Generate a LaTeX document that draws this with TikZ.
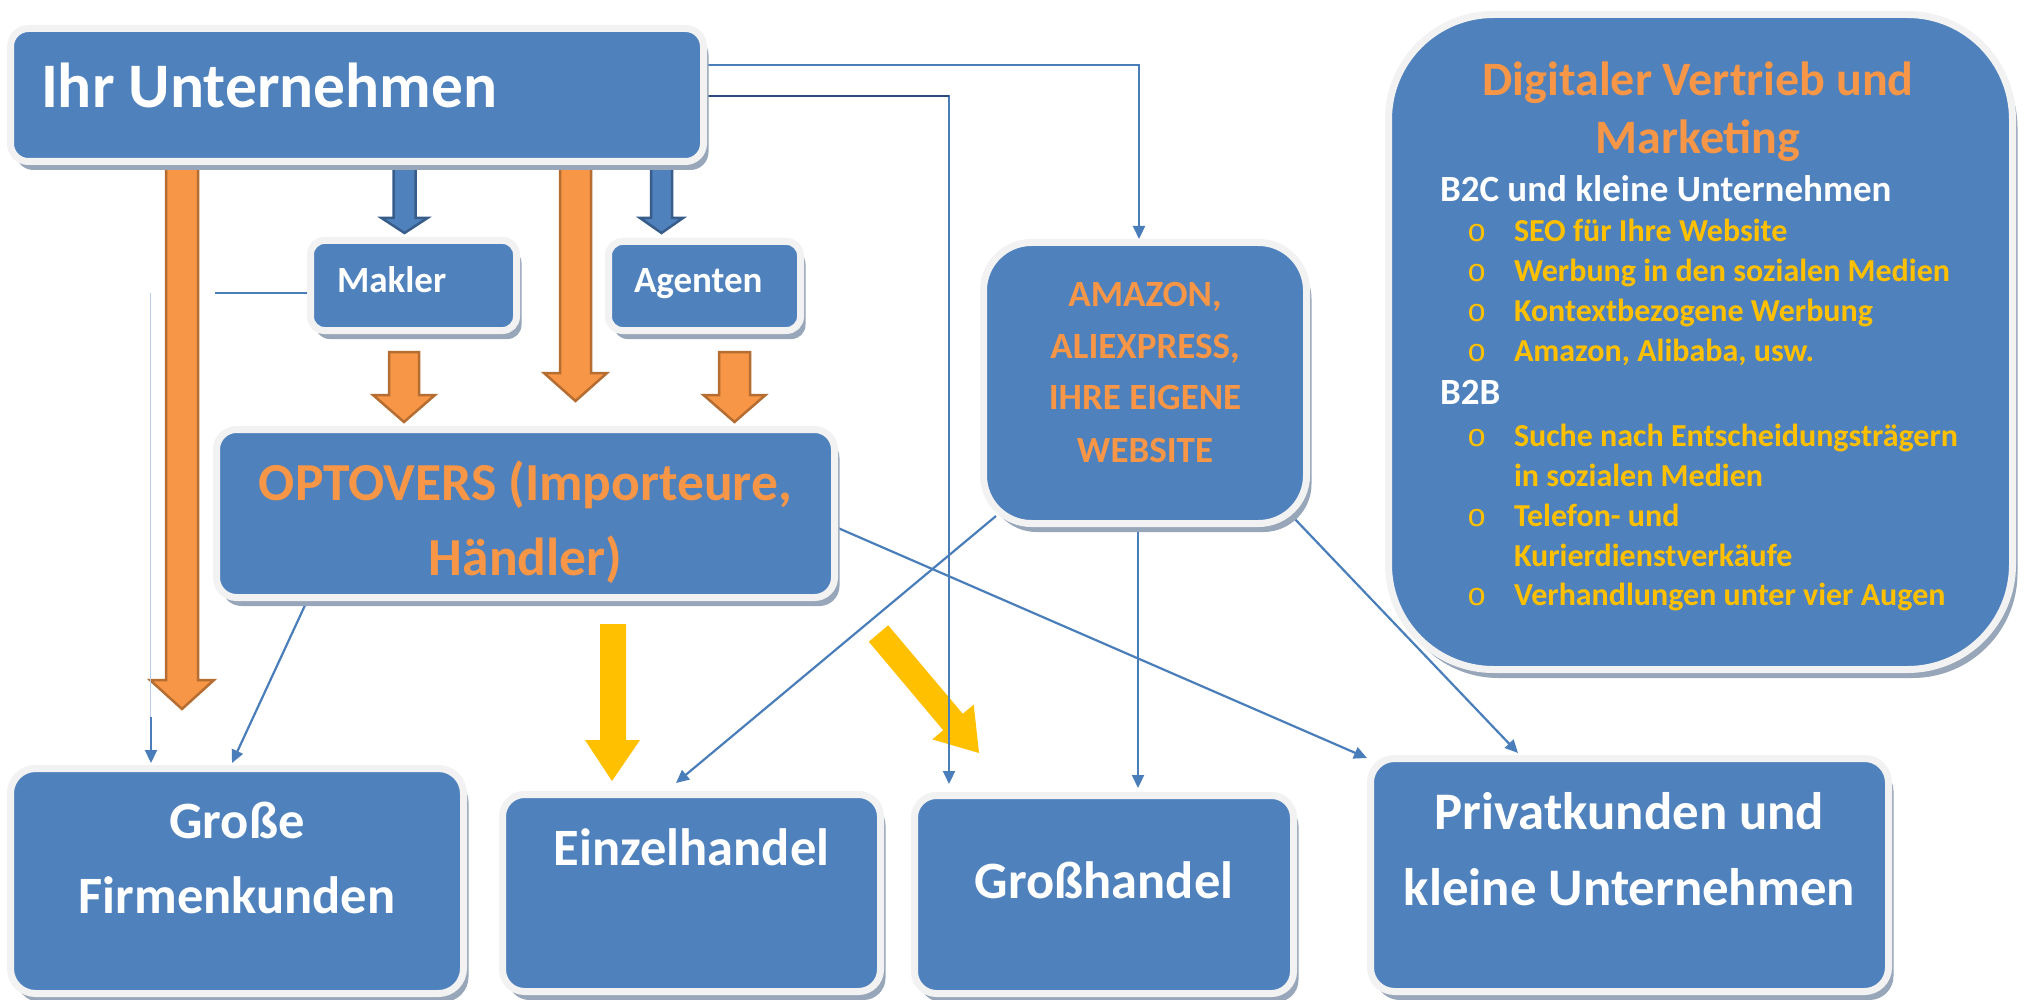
\documentclass[tikz,border=0pt]{standalone}
\usepackage{fontspec}
\setmainfont{Carlito}
\newfontfamily\bulletfont{Liberation Mono}
\usepackage{array}
\usetikzlibrary{arrows.meta,shadows}

\definecolor{boxblue}{HTML}{4F81BD}
\definecolor{rimgray}{HTML}{F2F2F2}
\definecolor{shadowgray}{HTML}{98A6B9}
\definecolor{connblue}{HTML}{4A7EBB}
\definecolor{navyline}{HTML}{2C4C7C}
\definecolor{faintblue}{HTML}{B9CDE5}
\definecolor{bluedraw}{HTML}{385D8A}
\definecolor{orangefill}{HTML}{F79646}
\definecolor{orangedraw}{HTML}{B66D31}
\definecolor{orangetxt}{HTML}{F79646}
\definecolor{gold}{HTML}{FFC000}

\pgfdeclarelayer{back}
\pgfdeclarelayer{under}
\pgfsetlayers{back,under,main}

\newcommand\ctab[1]{\begin{tabular}[t]{@{}c@{}}#1\end{tabular}}
\newcommand\bul{\hspace*{27pt}{\bulletfont\mdseries o}}
% #1 style, #2 centre x, #3 top y, #4 half shaft, #5 head y, #6 half head, #7 tip y
\newcommand\barrow[7]{\draw[#1] ({#2-#4},#3) -- ({#2-#4},#5) -- ({#2-#6},#5) -- (#2,#7) -- ({#2+#6},#5) -- ({#2+#4},#5) -- ({#2+#4},#3) -- cycle;}

\tikzset{
  box/.style={draw=rimgray, line width=7pt, fill=boxblue, rounded corners=#1,
    inner sep=0pt, drop shadow={shadow xshift=5pt, shadow yshift=-8.5pt, fill=shadowgray, opacity=1}},
  box/.default=18pt,
  txt/.style={inner sep=0pt, outer sep=0pt, text=white},
  conn/.style={draw=connblue, line width=2.2pt, -{Triangle[length=13pt,width=12pt]}},
  plainconn/.style={draw=connblue, line width=2.2pt},
  faintconn/.style={draw=faintblue, line width=1pt},
  orangearrow/.style={fill=orangefill, draw=orangedraw, line width=2.5pt, line join=miter},
  bluearrow/.style={fill=boxblue, draw=bluedraw, line width=2.5pt, line join=miter},
  goldarrow/.style={fill=gold, draw=none}
}

\begin{document}
\begin{tikzpicture}[x=1pt,y=-1pt]
\useasboundingbox (0,0) rectangle (2026,1000);
\begin{pgfonlayer}{back}
  \fill[white] (0,0) rectangle (2026,1000);
\end{pgfonlayer}

% boxes
\node[box=18pt, minimum width=693pt, minimum height=133pt] (ihr) at (357,95) {};
\node[box=14pt, minimum width=206pt, minimum height=90pt] (makler) at (413.5,285.5) {};
\node[box=14pt, minimum width=192pt, minimum height=89pt] (agenten) at (704.5,286) {};
\node[box=20pt, minimum width=618pt, minimum height=168pt] (opt) at (525.5,513.5) {};
\node[box=48pt, minimum width=323pt, minimum height=281pt] (amazon) at (1145,383) {};
\node[box=105pt, minimum width=624pt, minimum height=655pt] (digital) at (1700.5,342) {};
\node[box=25pt, minimum width=453pt, minimum height=225pt] (grosse) at (237,881) {};
\node[box=22pt, minimum width=378pt, minimum height=197pt] (einzel) at (691.5,893) {};
\node[box=22pt, minimum width=379pt, minimum height=198pt] (gross) at (1104,894.5) {};
\node[box=24pt, minimum width=518pt, minimum height=233pt] (privat) at (1629.5,875) {};

% texts
\node[txt, anchor=base west, font=\bfseries\fontsize{63.5}{72}\selectfont] (t-ihr) at (41,108) {Ihr Unternehmen};
\node[txt, anchor=base west, font=\bfseries\fontsize{37}{44}\selectfont] (t-makler) at (337,293) {Makler};
\node[txt, anchor=base west, font=\bfseries\fontsize{37}{44}\selectfont] (t-agenten) at (634,293) {Agenten};
\node[txt, text=orangetxt, anchor=base, font=\bfseries\fontsize{53.5}{75}\selectfont] (t-opt) at (525.5,500) {\ctab{OPTOVERS (Importeure,\\Händler)}};
\node[txt, text=orangetxt, anchor=base, font=\bfseries\fontsize{37}{52}\selectfont] (t-amazon) at (1145,306) {\ctab{AMAZON,\\ALIEXPRESS,\\IHRE EIGENE\\WEBSITE}};
\node[txt, text=orangetxt, anchor=base, font=\bfseries\fontsize{48}{58}\selectfont] (t-digital) at (1698,96) {\ctab{Digitaler Vertrieb und\\Marketing}};
\node[txt, text=gold, anchor=base west, font=\bfseries\fontsize{32}{39.8}\selectfont] (t-list) at (1440,202) {%
\begin{tabular}[t]{@{}p{74pt}@{}l@{}}
\multicolumn{2}{@{}l@{}}{\color{white}\fontsize{37}{39.8}\selectfont B2C und kleine Unternehmen}\\
\bul & SEO für Ihre Website\\
\bul & Werbung in den sozialen Medien\\
\bul & Kontextbezogene Werbung\\
\bul & Amazon, Alibaba, usw.\\[3.5pt]
\multicolumn{2}{@{}l@{}}{\color{white}\fontsize{37}{39.8}\selectfont B2B}\\[2.5pt]
\bul & Suche nach Entscheidungsträgern\\
 & in sozialen Medien\\
\bul & Telefon- und\\
 & Kurierdienstverkäufe\\
\bul & Verhandlungen unter vier Augen
\end{tabular}};
\node[txt, anchor=base, font=\bfseries\fontsize{52.5}{75}\selectfont] (t-grosse) at (237,838) {\ctab{Große\\Firmenkunden}};
\node[txt, anchor=base, font=\bfseries\fontsize{52.5}{75}\selectfont] (t-einzel) at (691.5,865) {Einzelhandel};
\node[txt, anchor=base, font=\bfseries\fontsize{52.5}{75}\selectfont] (t-gross) at (1104,898) {Großhandel};
\node[txt, anchor=base, font=\bfseries\fontsize{52.8}{76}\selectfont] (t-privat) at (1629.5,829) {\ctab{Privatkunden und\\kleine Unternehmen}};

% block arrows and connectors, behind the boxes
\begin{pgfonlayer}{under}
  \barrow{bluearrow}{404.5}{160}{11}{218}{23}{233}
  \barrow{bluearrow}{661.5}{160}{10.5}{218}{21.5}{233}
  \barrow{orangearrow}{182}{160}{16}{680}{32}{709}
  \barrow{orangearrow}{575.5}{160}{15.5}{373}{31.5}{401}
  \barrow{orangearrow}{404}{352}{15}{395}{31}{422}
  \barrow{orangearrow}{734.5}{352}{15.5}{395}{31}{422}
  \fill[goldarrow] (600,624) -- (600,740) -- (585,740) -- (612,781) -- (640,740) -- (626,740) -- (626,624) -- cycle;
  \fill[goldarrow] (868.8,641.7) -- (943.2,730.2) -- (932.3,739.4) -- (979,753) -- (973.7,704.6) -- (962.8,713.8) -- (888.2,625.3) -- cycle;

  \draw[conn] ([yshift=30pt]ihr.east) -| ([xshift=-6pt]amazon.north);
  \draw[conn] ([yshift=-1pt]ihr.east) -| ([xshift=-155pt,yshift=8pt]gross.north);
  \draw[navyline, line width=2.2pt] ([yshift=-1pt]ihr.east) -- ++(242,0);
  \draw[conn] ([xshift=-7pt]amazon.south) -- ([xshift=34pt,yshift=4pt]gross.north);
  \draw[conn] ([xshift=16pt,yshift=11pt]amazon.south west) -- ([xshift=-15.5pt,yshift=8pt]einzel.north);
  \draw[conn] ([xshift=-18pt,yshift=11pt]amazon.south east) -- ([xshift=-111.5pt,yshift=2pt]privat.north);
  \draw[conn] ([yshift=-14.5pt]opt.east) -- ([yshift=-3pt]privat.north west);
  \draw[conn] ([xshift=-218.5pt]opt.south) -- ([xshift=-5pt,yshift=2pt]grosse.north);
  \coordinate (mkturn) at (150,293);
  \coordinate (mklow) at (151,717);
  \draw[plainconn] ([yshift=-7.5pt]makler.west) -- ++(-92,0);
  \draw[faintconn] (mkturn) -- (150,717);
  \draw[conn] (mklow) -- ([xshift=-86pt,yshift=2pt]grosse.north);
\end{pgfonlayer}
\end{tikzpicture}
\end{document}
